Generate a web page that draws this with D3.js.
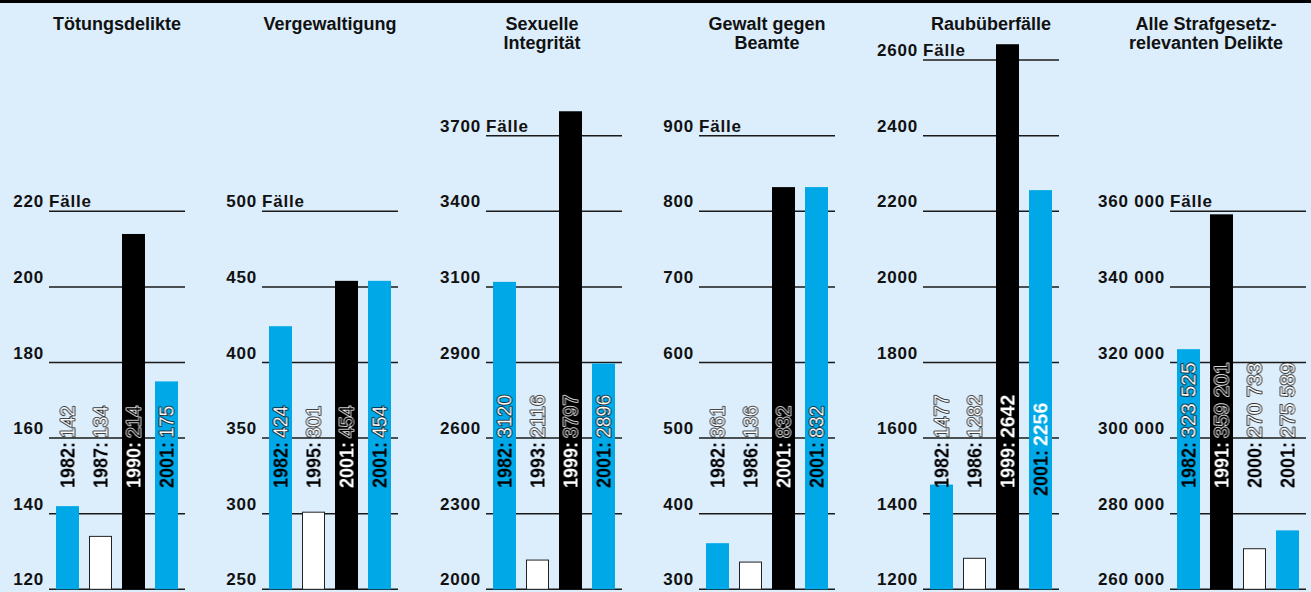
<!DOCTYPE html>
<html>
<head>
<meta charset="utf-8">
<script src="https://cdn.jsdelivr.net/npm/d3@7"></script>
<style>
  body { margin: 0; background: #dcedfb; }
  svg { display: block; }
  text { font-family: "Liberation Sans", Arial, sans-serif; }
</style>
</head>
<body>
<script>
// crime statistics, six small panels
var titles = [
    ["Tötungsdelikte"],
    ["Vergewaltigung"],
    ["Sexuelle", "Integrität"],
    ["Gewalt gegen", "Beamte"],
    ["Raubüberfälle"],
    ["Alle Strafgesetz-", "relevanten Delikte"]
];

// tick labels as printed (the Integrität axis is not evenly spaced in the original)
var ticks = [
    [120, 140, 160, 180, 200, 220],
    [250, 300, 350, 400, 450, 500],
    [2000, 2300, 2600, 2900, 3100, 3400, 3700],
    [300, 400, 500, 600, 700, 800, 900],
    [1200, 1400, 1600, 1800, 2000, 2200, 2400, 2600],
    [260000, 280000, 300000, 320000, 340000, 360000]
];

var years = [
    ["1982", "1987", "1990", "2001"],
    ["1982", "1995", "2001", "2001"],
    ["1982", "1993", "1999", "2001"],
    ["1982", "1986", "2001", "2001"],
    ["1982", "1986", "1999", "2001"],
    ["1982", "1991", "2000", "2001"]
];

// bar heights as drawn
var values = [
    [142, 134, 214, 175],
    [424, 301, 454, 454],
    [3120, 2116, 3797, 2896],
    [361, 336, 832, 832],
    [1477, 1282, 2642, 2256],
    [323525, 359201, 270733, 275589]
];

// numbers as printed on the bars
var printed = [
    ["142", "134", "214", "175"],
    ["424", "301", "454", "454"],
    ["3120", "2116", "3797", "2896"],
    ["361", "136", "832", "832"],
    ["1477", "1282", "2642", "2256"],
    ["323 525", "359 201", "270 733", "275 589"]
];

// bar kind: ref = blue, low = white, high = black
var kinds = [
    ["ref", "low", "high", "ref"],
    ["ref", "low", "high", "ref"],
    ["ref", "low", "high", "ref"],
    ["ref", "low", "high", "ref"],
    ["ref", "low", "high", "ref"],
    ["ref", "high", "low", "ref"]
];

// layout
var W = 1311, H = 592;
var gridLeft = [49, 262, 486, 699, 923, 1170];
var titleCenter = [117, 330, 542, 767, 991, 1206];
var gridW = 136;
var baseY = 589.3, step = 75.6;
var labelY = 488;
var blue = "#00a8e8";

var fill = {ref: blue, low: "#ffffff", high: "#000000"};

function fmt(d) {
    return d >= 10000 ? d3.format(",")(d).replace(/,/g, " ") : String(d);
}

var svg = d3.select("body").append("svg")
    .attr("width", W)
    .attr("height", H);

// no-op filter, keeps the outlined numbers from getting colour fringes
svg.append("defs").append("filter")
    .attr("id", "flat")
    .append("feOffset")
    .attr("dx", 0).attr("dy", 0);

svg.append("rect")
    .attr("width", W).attr("height", H)
    .attr("fill", "#dcedfb");

svg.append("rect")
    .attr("width", W).attr("height", 3)
    .attr("fill", "#000");

titles.forEach(function (t, p) {
    var g = svg.append("g")
        .attr("transform", "translate(" + gridLeft[p] + ",0)");

    var tk = ticks[p];
    var y = d3.scaleLinear()
        .domain(tk)
        .range(tk.map(function (d, i) { return baseY - i * step; }));

    var x = d3.scaleBand()
        .domain(d3.range(values[p].length))
        .range([0, gridW])
        .paddingInner(0.303)
        .paddingOuter(0.212);

    // title
    svg.append("text")
        .attr("x", titleCenter[p])
        .attr("y", 30)
        .attr("text-anchor", "middle")
        .style("font-weight", "bold")
        .style("font-size", "18px")
        .attr("fill", "#111")
        .selectAll("tspan")
        .data(t)
        .enter()
        .append("tspan")
        .attr("x", titleCenter[p])
        .attr("dy", function (d, i) { return i ? 19 : 0; })
        .text(function (d) { return d; });

    // grid lines
    g.selectAll("line.grid")
        .data(tk)
        .enter()
        .append("line")
        .attr("class", "grid")
        .attr("x1", 0).attr("x2", gridW)
        .attr("y1", function (d) { return y(d); })
        .attr("y2", function (d) { return y(d); })
        .attr("stroke", "#1a1a1a")
        .attr("stroke-width", 1.5);

    // tick labels
    g.selectAll("text.tick")
        .data(tk)
        .enter()
        .append("text")
        .attr("class", "tick")
        .attr("x", -5)
        .attr("y", function (d) { return y(d) - 4; })
        .attr("text-anchor", "end")
        .attr("fill", "#111")
        .style("font-weight", "bold")
        .style("font-size", "17px")
        .style("letter-spacing", "0.8px")
        .text(fmt);

    g.append("text")
        .attr("x", 0)
        .attr("y", y(tk[tk.length - 1]) - 4)
        .attr("fill", "#111")
        .style("font-weight", "bold")
        .style("font-size", "17px")
        .style("letter-spacing", "0.8px")
        .text("Fälle");

    // bars
    g.selectAll("rect.bar")
        .data(values[p])
        .enter()
        .append("rect")
        .attr("class", "bar")
        .attr("x", function (d, i) { return x(i) + (kinds[p][i] == "low" ? 0.5 : 0); })
        .attr("width", function (d, i) { return x.bandwidth() - (kinds[p][i] == "low" ? 1 : 0); })
        .attr("y", function (d) { return y(d); })
        .attr("height", function (d) { return baseY - y(d); })
        .attr("fill", function (d, i) { return fill[kinds[p][i]]; })
        .attr("stroke", function (d, i) { return kinds[p][i] == "low" ? "#222" : "none"; })
        .attr("stroke-width", 1);

    // rotated labels: year bold, number outlined
    var lab = g.selectAll("g.lab")
        .data(values[p])
        .enter()
        .append("g")
        .attr("class", "lab")
        .attr("filter", "url(#flat)")
        .attr("transform", function (d, i) {
            var cx = x(i) + x.bandwidth() / 2;
            var ly = (p == 4 && i == 3) ? labelY + 8 : labelY;
            return "translate(" + cx + "," + ly + ") rotate(-90)";
        });

    lab.append("text")
        .attr("dy", "0.36em")
        .attr("textLength", 46)
        .attr("lengthAdjust", "spacingAndGlyphs")
        .style("font-size", "20px")
        .style("font-weight", "bold")
        .attr("fill", function (d, i) { return kinds[p][i] == "high" ? "#fff" : "#000"; })
        .text(function (d, i) { return years[p][i] + ":"; });

    lab.append("text")
        .attr("x", 50)
        .attr("dy", "0.36em")
        .attr("textLength", function (d, i) { return printed[p][i].length * 10.8; })
        .attr("lengthAdjust", "spacingAndGlyphs")
        .style("font-size", "20px")
        .style("font-weight", function (d, i) { return (p == 4 && i >= 2) ? "bold" : "normal"; })
        .style("paint-order", "stroke")
        .attr("fill", function (d, i) {
            if (p == 4 && i >= 2) return "#fff";
            return kinds[p][i] == "high" ? "#000" : "#fff";
        })
        .attr("stroke", function (d, i) {
            if (p == 4 && i >= 2) return "none";
            return kinds[p][i] == "high" ? "#fff" : "#000";
        })
        .attr("stroke-width", 1.6)
        .attr("stroke-linejoin", "round")
        .text(function (d, i) { return printed[p][i]; });
});
</script>
</body>
</html>
